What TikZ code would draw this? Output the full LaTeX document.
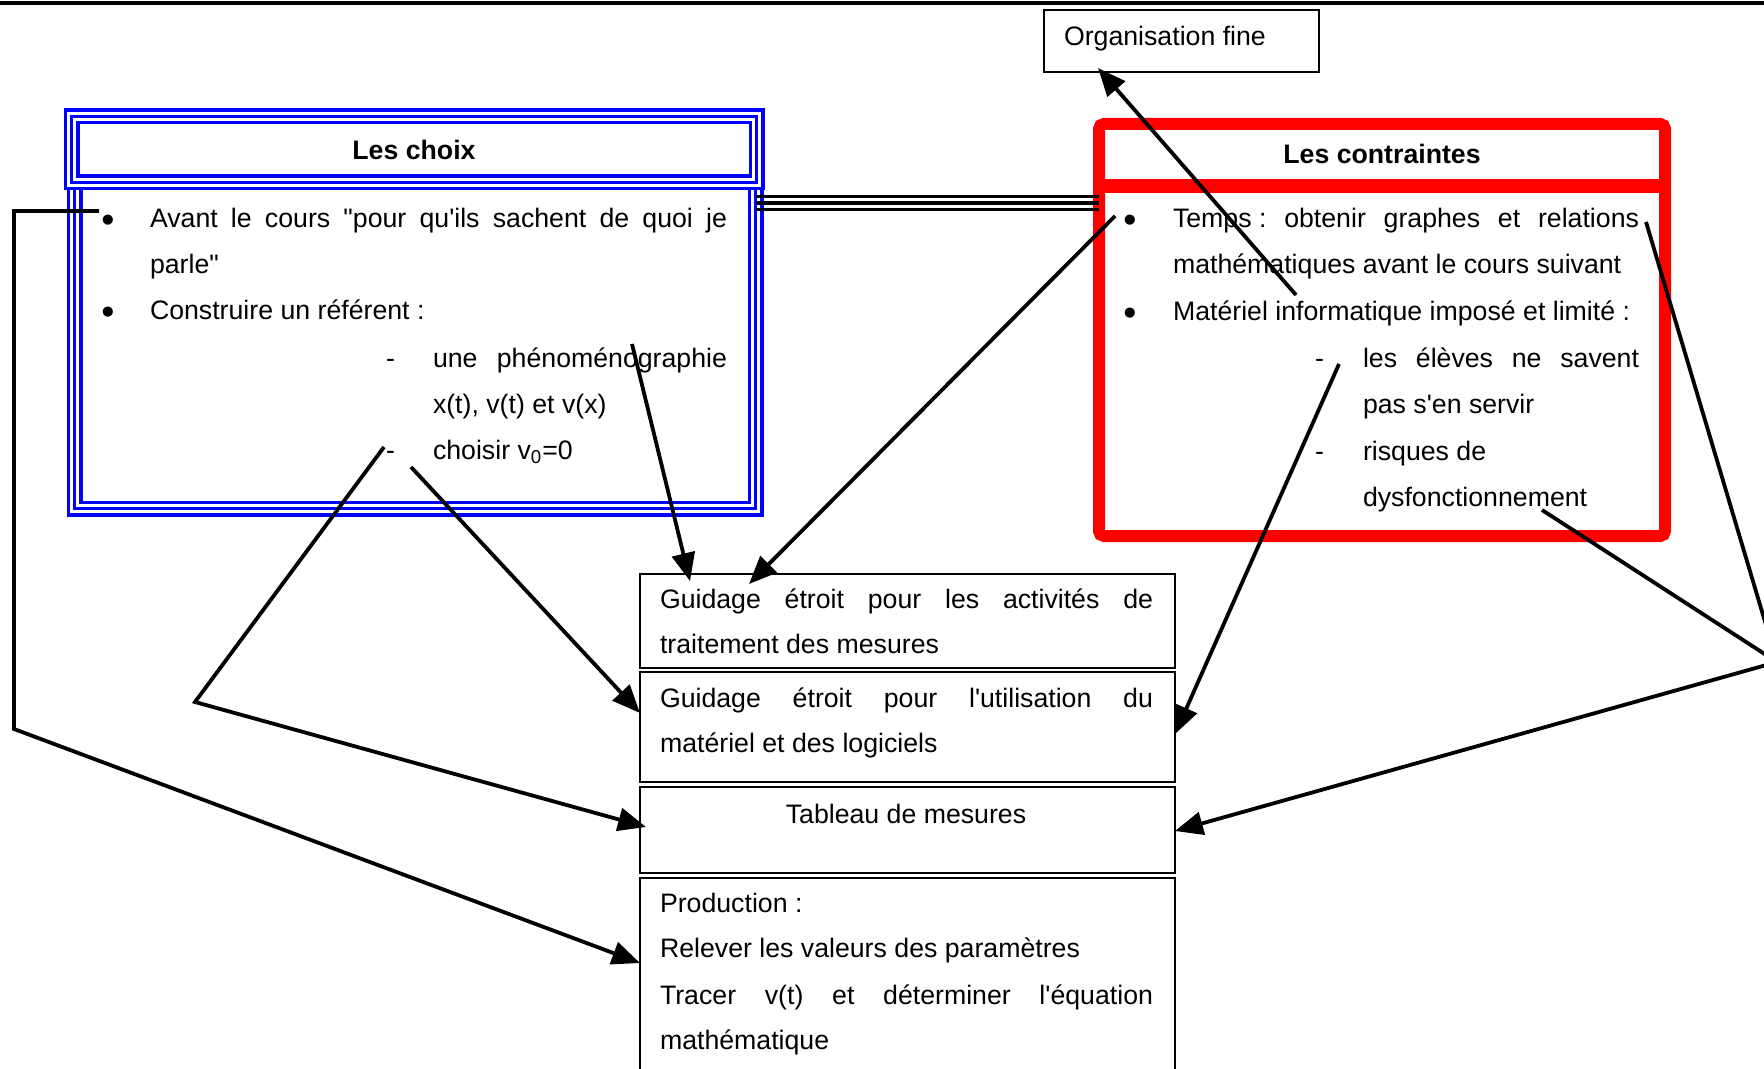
\documentclass[tikz,border=0pt]{standalone}
\usepackage{fontspec}
\newfontfamily\arial{Liberation Sans}
\usetikzlibrary{arrows.meta,calc}
\newcommand\ftxt{\arial\fontsize{13.35pt}{23pt}\selectfont}
\newcommand\fttl{\arial\bfseries\fontsize{13.35pt}{23pt}\selectfont}
\newcommand\bigbul{\raisebox{-2.3pt}{\scalebox{1.4}{•}}}
\begin{document}
\begin{tikzpicture}[x=0.5pt,y=-0.5pt,
  txt/.style={anchor=base west,inner sep=0pt,outer sep=0pt,font=\ftxt},
  ctxt/.style={anchor=base,inner sep=0pt,outer sep=0pt,font=\ftxt},
  bul/.style={anchor=base,inner sep=0pt,outer sep=0pt,font=\ftxt},
  ttl/.style={inner sep=0pt,outer sep=0pt,font=\fttl},
  cbox/.style={draw,line width=1.1pt,inner sep=0pt,outer sep=0pt},
  tripleblue/.style={draw=white,line width=4.5pt,inner sep=0pt,outer sep=0pt,
     preaction={draw=blue,line width=8pt},postaction={draw=blue,line width=1.3pt}},
  redbox/.style={draw=red,line width=6pt,rounded corners=2.5pt,inner sep=0pt,outer sep=0pt},
  conn/.style={line width=1.9pt,-{Triangle[length=14pt,width=11.5pt]}},
  plainline/.style={line width=1.9pt},
]
\useasboundingbox (0,0) rectangle (1764,1069);
% top rule
\coordinate (ruleL) at (0,3);
\coordinate (ruleR) at (1764,3);
\draw[line width=2pt] (ruleL) -- (ruleR);

% level coordinates
\coordinate (ysep) at (0,186);
\coordinate (yl1) at (0,196.5);
\coordinate (yl2) at (0,203);
\coordinate (yl3) at (0,209.5);
\coordinate (yProd) at (0,963);
\coordinate (yTabL) at (0,827);
\coordinate (yTabR) at (0,831);
\coordinate (yBl) at (0,713);
\coordinate (yBr) at (0,734);

% Les choix
\node[tripleblue,minimum width=340.5pt,minimum height=163pt] (choixbody) at (415,345.5) {};
\node[tripleblue,minimum width=342.5pt,minimum height=33pt,font=\fttl] (choixtitle) at (414,149.5) {Les choix};

% Les contraintes
\node[redbox,minimum width=283pt,minimum height=206pt] (contraintes) at (1382,330) {};
\draw[red,line width=7pt] (contraintes.west |- ysep) -- (contraintes.east |- ysep);
\node[ttl] (ctitle) at (1382,154) {Les contraintes};

% triple link
\draw[line width=1.6pt] (choixbody.east |- yl1) -- (contraintes.west |- yl1);
\draw[line width=2pt] (choixbody.east |- yl2) -- (contraintes.west |- yl2);
\draw[line width=1.5pt] (choixbody.east |- yl3) -- (contraintes.west |- yl3);

% Organisation fine
\node[cbox,minimum width=137.5pt,minimum height=31pt] (org) at (1181.5,41) {};
\node[txt] (orgt) at (1064,46) {Organisation fine};

% centre boxes
\node[cbox,minimum width=267.5pt,minimum height=47pt] (boxA) at (907.5,621) {};
\node[cbox,minimum width=267.5pt,minimum height=55pt] (boxB) at (907.5,727) {};
\node[cbox,minimum width=267.5pt,minimum height=43pt] (boxC) at (907.5,830) {};
\node[cbox,minimum width=267.5pt,minimum height=101pt] (boxD) at (907.5,979) {};

% texts in Les choix
\node[bul] (cb1) at (108,228) {\bigbul};
\node[txt] (ct1) at (150,228) {\makebox[288.5pt][s]{Avant le cours "pour qu'ils sachent de quoi je}};
\node[txt] (ct2) at (150,274) {parle"};
\node[bul] (cb2) at (108,320) {\bigbul};
\node[txt] (ct3) at (150,320) {Construire un référent :};
\node[txt] (cd1) at (386,367) {-};
\node[txt] (ct4) at (433,367) {\makebox[147pt][s]{une phénoménographie}};
\node[txt] (ct5) at (433,413) {x(t), v(t) et v(x)};
\node[txt] (cd2) at (386,459) {-};
\node[txt] (ct6) at (433,459) {choisir v\textsubscript{0}=0};

% texts in Les contraintes
\node[bul] (rb1) at (1130,228) {\bigbul};
\node[txt] (rt1) at (1173,228) {\makebox[233pt][s]{\mbox{Temps :} obtenir graphes et relations}};
\node[txt] (rt2) at (1173,274) {mathématiques avant le cours suivant};
\node[bul] (rb2) at (1130,321) {\bigbul};
\node[txt] (rt3) at (1173,321) {Matériel informatique imposé et limité :};
\node[txt] (rd1) at (1315,367) {-};
\node[txt] (rt4) at (1363,367) {\makebox[138pt][s]{les élèves ne savent}};
\node[txt] (rt5) at (1363,413) {pas s'en servir};
\node[txt] (rd2) at (1315,460) {-};
\node[txt] (rt6) at (1363,460) {risques de};
\node[txt] (rt7) at (1363,506) {dysfonctionnement};

% texts in centre boxes
\node[txt] (at1) at (660,608) {\makebox[246.5pt][s]{Guidage étroit pour les activités de}};
\node[txt] (at2) at (660,653) {traitement des mesures};
\node[txt] (bt1) at (660,707) {\makebox[246.5pt][s]{Guidage étroit pour l'utilisation du}};
\node[txt] (bt2) at (660,752) {matériel et des logiciels};
\node[ctxt] (tt1) at (906,823) {Tableau de mesures};
\node[txt] (dt1) at (660,912) {Production :};
\node[txt] (dt2) at (660,957) {Relever les valeurs des paramètres};
\node[txt] (dt3) at (660,1004) {\makebox[246.5pt][s]{Tracer v(t) et déterminer l'équation}};
\node[txt] (dt4) at (660,1049) {mathématique};

% connector anchors
\coordinate (pAvant) at (99,211);
\coordinate (kA1) at (14,211);
\coordinate (kA2) at (14,729);
\coordinate (pChoisir) at (384,447);
\coordinate (kB) at (195,702);
\coordinate (pChoisir2) at (411,467);
\coordinate (pPheno) at (632,344);
\coordinate (pTemps) at (1115,216);
\coordinate (pEleves) at (1339,364);
\coordinate (pMath) at (1296,295);
\coordinate (pDysf) at (1542,510);
\coordinate (pRel) at (1646,222);
\coordinate (meet) at (1777,662);

% connectors
\draw[conn] (pAvant) -- (kA1) -- (kA2) -- (boxD.west |- yProd);
\draw[conn] (pChoisir) -- (kB) -- ($(boxC.west |- yTabL)+(6,0)$);
\draw[conn] (pChoisir2) -- (boxB.west |- yBl);
\draw[conn] (pPheno) -- ($(boxA.north west)+(50,7)$);
\draw[conn] (pTemps) -- ($(boxA.north west)+(109,10)$);
\draw[conn] (pEleves) -- (boxB.east |- yBr);
\draw[conn] (pMath) -- ($(org.south west)+(54,-4)$);
\draw[plainline] (pRel) -- (meet);
\draw[conn] (pDysf) -- (meet) -- (boxC.east |- yTabR);
\end{tikzpicture}
\end{document}
